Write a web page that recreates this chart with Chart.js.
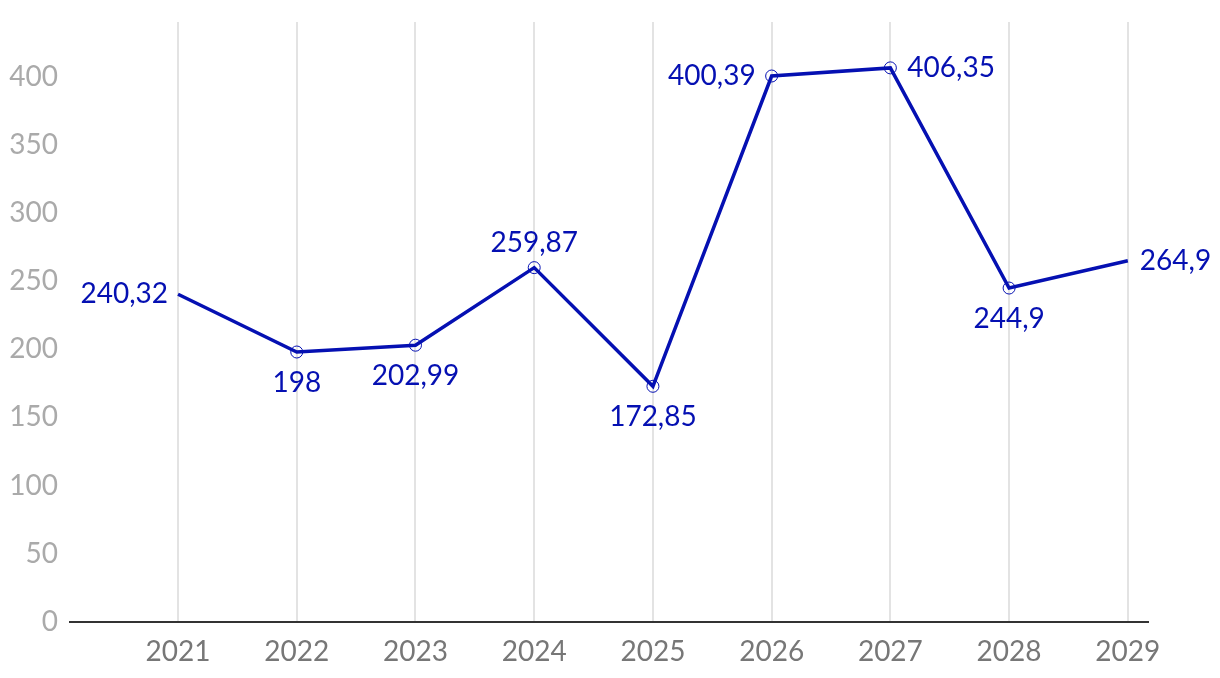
<!DOCTYPE html>
<html lang="en">
<head>
    <meta charset="UTF-8">
    <title>Line chart 2021-2029</title>
    <script src="https://cdn.jsdelivr.net/npm/chart.js"></script>
    <style>
        body {
            margin: 0;
            padding: 0;
            background-color: #fff;
        }
        .container {
            width: 1220px;
            height: 678px;
        }
    </style>
</head>
<body>
    <div class="container">
        <canvas id="line-chart" width="1220" height="678"></canvas>
    </div>

    <script>
        // Data
        const years = [2021, 2022, 2023, 2024, 2025, 2026, 2027, 2028, 2029];
        const values = [240.32, 198, 202.99, 259.87, 172.85, 400.39, 406.35, 244.9, 264.9];
        const valueLabels = ['240,32', '198', '202,99', '259,87', '172,85', '400,39', '406,35', '244,9', '264,9'];
        // where each label sits next to its point
        const labelSides = ['left', 'below', 'below', 'above', 'below', 'left', 'right', 'below', 'right'];
        const yTicks = [0, 50, 100, 150, 200, 250, 300, 350, 400];

        const lineColor = '#0510b2';
        const fontFamily = 'Lato, "Noto Sans", sans-serif';

        // Simple inline value-label plugin
        const valueLabelPlugin = {
            id: 'valueLabels',
            afterDatasetsDraw(chart) {
                const ctx = chart.ctx;
                const meta = chart.getDatasetMeta(0);
                ctx.save();
                ctx.font = '28px ' + fontFamily;
                ctx.fillStyle = lineColor;
                meta.data.forEach((pt, i) => {
                    const side = labelSides[i];
                    let x = pt.x, y = pt.y;
                    if (side === 'left') {
                        ctx.textAlign = 'right'; ctx.textBaseline = 'middle'; x -= (i === 5 ? 16 : 10);
                    } else if (side === 'right') {
                        ctx.textAlign = 'left'; ctx.textBaseline = 'middle'; x += (i === 6 ? 17 : 12);
                    } else if (side === 'above') {
                        ctx.textAlign = 'center'; ctx.textBaseline = 'middle'; y -= 25;
                    } else {
                        ctx.textAlign = 'center'; ctx.textBaseline = 'middle'; y += 31;
                    }
                    ctx.fillText(valueLabels[i], x, y);
                });
                ctx.restore();
            }
        };

        const ctx = document.getElementById('line-chart').getContext('2d');
        const lineChart = new Chart(ctx, {
            type: 'line',
            data: {
                datasets: [{
                    data: years.map((yr, i) => ({ x: yr, y: values[i] })),
                    borderColor: lineColor,
                    borderWidth: 3.5,
                    tension: 0,
                    pointRadius: years.map((yr, i) => (i === 0 || i === years.length - 1) ? 0 : 6),
                    pointBackgroundColor: 'rgba(255,255,255,0)',
                    pointBorderColor: lineColor,
                    pointBorderWidth: 1
                }]
            },
            options: {
                responsive: false,
                animation: false,
                layout: {
                    padding: { top: 22, right: 72, left: 0, bottom: 0 }
                },
                plugins: {
                    legend: { display: false },
                    tooltip: { enabled: false }
                },
                scales: {
                    x: {
                        type: 'linear',
                        min: 2020.09,
                        max: 2029.17,
                        afterBuildTicks: axis => { axis.ticks = years.map(v => ({ value: v })); },
                        afterFit: axis => { axis.height = 56; axis.paddingLeft = 0; axis.paddingRight = 0; },
                        grid: {
                            color: '#e3e3e3',
                            lineWidth: 2,
                            drawTicks: false
                        },
                        border: { color: '#333', width: 2 },
                        ticks: {
                            color: '#777',
                            padding: 13,
                            font: { family: fontFamily, size: 28 },
                            callback: v => String(v),
                            maxRotation: 0,
                            autoSkip: false
                        }
                    },
                    y: {
                        min: 0,
                        max: 440,
                        afterBuildTicks: axis => { axis.ticks = yTicks.map(v => ({ value: v })); },
                        afterFit: axis => { axis.width = 70; axis.paddingTop = 0; axis.paddingBottom = 0; },
                        grid: { display: false, drawTicks: false },
                        border: { display: false },
                        ticks: {
                            color: '#aaa',
                            padding: 12,
                            font: { family: fontFamily, size: 28 }
                        }
                    }
                }
            },
            plugins: [valueLabelPlugin]
        });
    </script>
</body>
</html>
